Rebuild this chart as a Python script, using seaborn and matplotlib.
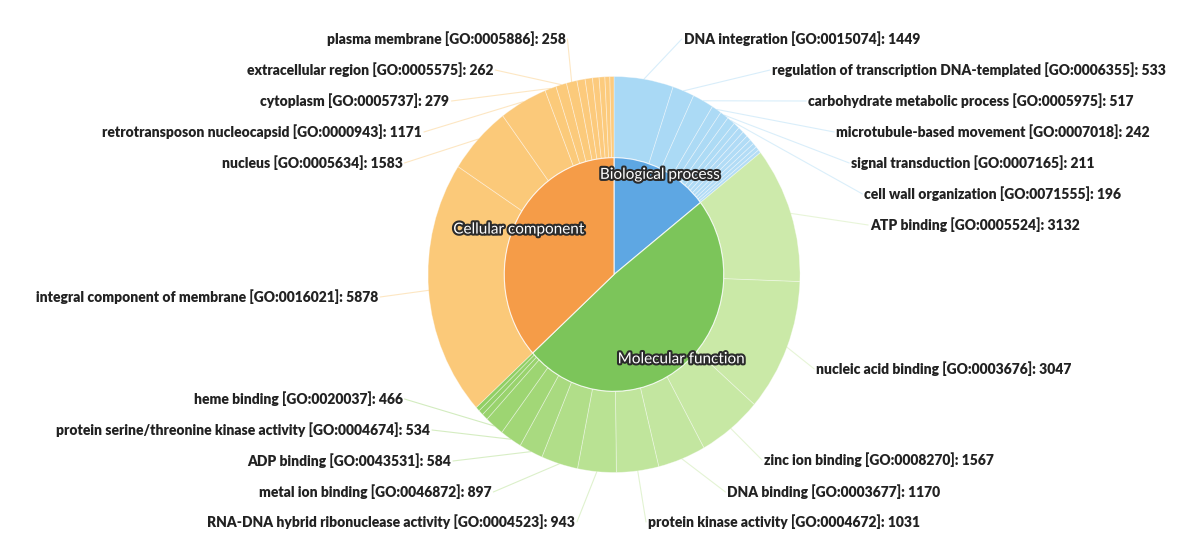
"""
    GO annotation sunburst (Biological process / Molecular function / Cellular component)
"""
import numpy as np
import matplotlib
matplotlib.use('Agg')
import matplotlib.pyplot as plt
import matplotlib.patheffects as pe
import seaborn as sns

# Inner ring: GO namespaces, clockwise from 12 o'clock
groups = ['Biological process', 'Molecular function', 'Cellular component']

# Outer ring: GO terms per namespace (labelled ones first, then unlabelled slivers)
bp_terms = ['DNA integration [GO:0015074]',
            'regulation of transcription DNA-templated [GO:0006355]',
            'carbohydrate metabolic process [GO:0005975]',
            'microtubule-based movement [GO:0007018]',
            'signal transduction [GO:0007165]',
            'cell wall organization [GO:0071555]']
bp_counts = [1449, 533, 517, 242, 211, 196]
bp_small = [150, 140, 130, 120, 110, 100, 90, 75]

mf_terms = ['ATP binding [GO:0005524]',
            'nucleic acid binding [GO:0003676]',
            'zinc ion binding [GO:0008270]',
            'DNA binding [GO:0003677]',
            'protein kinase activity [GO:0004672]',
            'RNA-DNA hybrid ribonuclease activity [GO:0004523]',
            'metal ion binding [GO:0046872]',
            'ADP binding [GO:0043531]',
            'protein serine/threonine kinase activity [GO:0004674]',
            'heme binding [GO:0020037]']
mf_counts = [3132, 3047, 1567, 1170, 1031, 943, 897, 584, 534, 466]
mf_small = [150, 120, 100]

cc_terms = ['integral component of membrane [GO:0016021]',
            'nucleus [GO:0005634]',
            'retrotransposon nucleocapsid [GO:0000943]',
            'cytoplasm [GO:0005737]',
            'extracellular region [GO:0005575]',
            'plasma membrane [GO:0005886]']
cc_counts = [5878, 1583, 1171, 279, 262, 258]
cc_small = [200, 180, 160, 140, 120, 100]

# Label anchors (pixel centre of each text), same order as the terms
bp_label_xy = [(802, 39), (969, 70), (971, 101), (993, 132), (973, 163), (993, 194)]
mf_label_xy = [(975, 225), (944, 369), (879, 460), (834, 492), (784, 522),
               (391, 522), (375, 492), (349, 461), (243, 430), (298, 399)]
cc_label_xy = [(207, 297), (312, 163), (262, 132), (355, 101), (370, 70), (446, 39)]

W, H = 1196, 550
CX, CY = 614, 274.5      # centre of the sunburst in pixels
RX, RY = 186, 198        # the original is a bit squashed horizontally
R_IN = 0.59

sns.set_theme(style='white')
plt.rcParams['font.family'] = ['Lato', 'DejaVu Sans']

inner_colors = ['#5ea7e3', '#7cc55a', '#f59c48']
bp_pal = sns.blend_palette(['#a9d9f5', '#b4ddf6'], len(bp_counts) + len(bp_small))
mf_pal = sns.blend_palette(['#cdeaab', '#c0e59c', '#a2d777', '#90cf64'], len(mf_counts) + len(mf_small))
cc_pal = sns.blend_palette(['#fbc979', '#fccb7e'], len(cc_counts) + len(cc_small))

outer_vals = bp_counts + bp_small + mf_counts + mf_small + cc_counts + cc_small
outer_colors = list(bp_pal) + list(mf_pal) + list(cc_pal)
inner_vals = [sum(bp_counts + bp_small), sum(mf_counts + mf_small), sum(cc_counts + cc_small)]

fig = plt.figure(figsize=(W / 100, H / 100), dpi=100)
fig.patch.set_facecolor('white')

# pie axes placed on the pixel box of the ellipse
ax = fig.add_axes([(CX - RX) / W, 1 - (CY + RY) / H, 2 * RX / W, 2 * RY / H])
ax.pie(outer_vals, radius=1.0, colors=outer_colors, startangle=90, counterclock=False,
       wedgeprops=dict(width=1.0 - R_IN, edgecolor=(1, 1, 1, 0.4), linewidth=0.6))
ax.pie(inner_vals, radius=R_IN, colors=inner_colors, startangle=90, counterclock=False,
       wedgeprops=dict(edgecolor=(1, 1, 1, 0.8), linewidth=0.8))
ax.set_aspect('auto')
ax.set_xlim(-1, 1)
ax.set_ylim(-1, 1)
ax.axis('off')

# overlay in pixel coordinates for labels and leader lines
ov = fig.add_axes([0, 0, 1, 1], facecolor='none')
ov.set_xlim(0, W)
ov.set_ylim(H, 0)
ov.axis('off')


def to_px(theta_deg, r):
    t = np.deg2rad(theta_deg)
    return CX + RX * r * np.sin(t), CY - RY * r * np.cos(t)


total = float(sum(outer_vals))
stroke = [pe.withStroke(linewidth=3, foreground='#2b2b2b')]

# inner labels at the middle angle of each namespace
start = 0.0
for name, v in zip(groups, inner_vals):
    mid = (start + v / 2) / total * 360
    x, y = to_px(mid, 0.56)
    ov.text(x, y, name, ha='center', va='center', fontsize=11, color='white',
            path_effects=stroke, zorder=5)
    start += v

# outer labels with faint leader lines
blocks = [(bp_terms, bp_counts, bp_small, bp_label_xy, bp_pal),
          (mf_terms, mf_counts, mf_small, mf_label_xy, mf_pal),
          (cc_terms, cc_counts, cc_small, cc_label_xy, cc_pal)]
fig.canvas.draw()
renderer = fig.canvas.get_renderer()
start = 0.0
for terms, counts, small, label_xy, pal in blocks:
    for i, (term, v, (lx, ly)) in enumerate(zip(terms, counts, label_xy)):
        mid = (start + v / 2) / total * 360
        txt = ov.text(lx, ly, f'{term}: {v}', ha='center', va='center',
                      fontsize=10, fontweight='heavy', color='#222222', zorder=4)
        bb = txt.get_window_extent(renderer)
        half = bb.width / 2
        end_x = lx + half + 2 if lx < CX else lx - half - 2
        sx, sy = to_px(mid, 1.0)
        ov.plot([sx, end_x], [sy, ly], color=pal[i], lw=0.8, alpha=0.45, zorder=1)
        start += v
    start += sum(small)

fig.savefig('out.png', dpi=100, facecolor='white')
